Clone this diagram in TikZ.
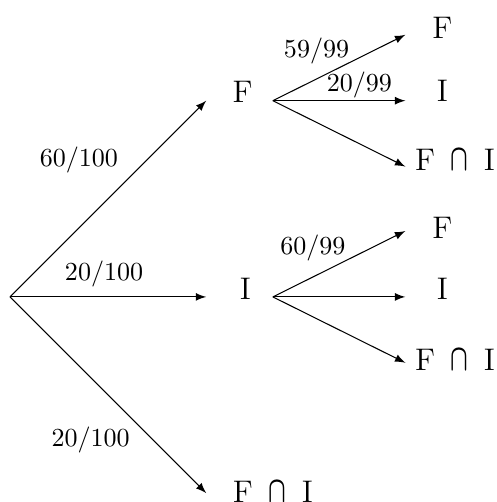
\documentclass[tikz,border=0pt]{standalone}
\usepackage{amsmath}
\usepackage{graphicx}
\usepackage{tikz}
\newcommand\both{F\hspace{0.5em}\scalebox{0.74}[1.2]{$\boldsymbol{\cap}$}\hspace{0.5em}I}
\tikzset{
  branch/.style={-latex, line width=0.4pt},
  outcome/.style={inner sep=0pt, font=\large},
  prob/.style={inner sep=0pt},
}

\begin{document}
\begin{tikzpicture}
\useasboundingbox (-0.135,-2.77) rectangle (6.57,4.01);
% branch points and arrow ends
\coordinate (r) at (0,0);
\coordinate (F in) at (2.65,2.65);
\coordinate (I in) at (2.65,0);
\coordinate (B in) at (2.65,-2.65);
\coordinate (F out) at (3.55,2.65);
\coordinate (I out) at (3.55,0);
\coordinate (FF in) at (5.34,3.54);
\coordinate (FI in) at (5.34,2.65);
\coordinate (FB in) at (5.34,1.76);
\coordinate (IF in) at (5.34,0.89);
\coordinate (II in) at (5.34,0);
\coordinate (IB in) at (5.34,-0.89);
% outcomes
\node[outcome] (F) at (3.14,2.77) {F};
\node[outcome] (I) at (3.18,0.11) {I};
\node[outcome] (B) at (3.55,-2.63) {\both};
\node[outcome] (FF) at (5.84,3.64) {F};
\node[outcome] (FI) at (5.84,2.78) {I};
\node[outcome] (FB) at (6.01,1.85) {\both};
\node[outcome] (IF) at (5.84,0.93) {F};
\node[outcome] (II) at (5.84,0.11) {I};
\node[outcome] (IB) at (6.01,-0.85) {\both};
% arrows
\draw[branch] (r) -- (F in);
\draw[branch] (r) -- (I in);
\draw[branch] (r) -- (B in);
\draw[branch] (F out) -- (FF in);
\draw[branch] (F out) -- (FI in);
\draw[branch] (F out) -- (FB in);
\draw[branch] (I out) -- (IF in);
\draw[branch] (I out) -- (II in);
\draw[branch] (I out) -- (IB in);
% probabilities
\node[prob] (pF) at (0.93,1.85) {$60/100$};
\node[prob] (pI) at (1.27,0.31) {$20/100$};
\node[prob] (pB) at (1.09,-1.93) {$20/100$};
\node[prob] (pFF) at (4.14,3.32) {$59/99$};
\node[prob] (pFI) at (4.72,2.86) {$20/99$};
\node[prob] (pIF) at (4.09,0.66) {$60/99$};
\end{tikzpicture}
\end{document}
